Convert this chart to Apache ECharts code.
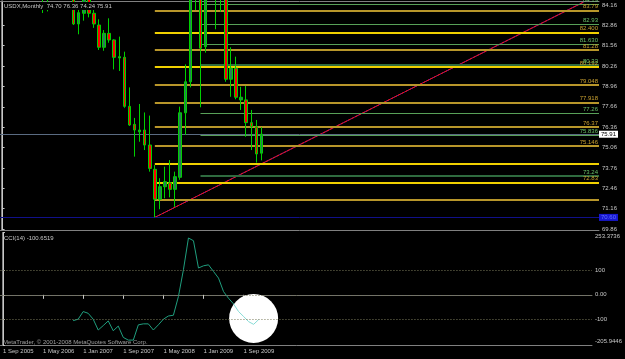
<!DOCTYPE html>
<html><head><meta charset="utf-8">
<script src="https://cdn.jsdelivr.net/npm/echarts@6/dist/echarts.min.js"></script>
<style>html,body{margin:0;padding:0;background:#000;}#c{width:625px;height:359px;}</style>
</head><body><div id="c"></div>
<script>
// ---------- data ----------
const symbolName = 'USDX,Monthly';
const startYear = 2005, startMonth = 8;   // first bar: Sep 2005
const monthCount = 118;                   // visible bar slots incl. empty future area
const MONTHS = ['Jan','Feb','Mar','Apr','May','Jun','Jul','Aug','Sep','Oct','Nov','Dec'];

// monthly candles, Sep 2005 .. Dec 2009
const opens  = [86.6,88.9,89.6,91.0,89.8,89.1,90.0,89.6,86.6,85.3,85.5,85.0,84.7,86.3,
                85.6,82.95,83.63,84.9,83.63,82.88,81.46,82.35,81.93,80.78,80.82,77.69,76.54,76.06,
                76.18,75.22,73.67,71.76,72.56,72.81,72.39,73.16,77.28,79.26,85.5,86.6,81.5,85.6,
                88.3,85.4,84.6,79.42,80.12,78.1,78.1,76.65,76.39,74.70];
const highs  = [89.2,90.2,92.6,91.3,90.7,91.0,91.2,89.8,86.9,86.6,86.0,85.6,86.4,87.1,
                86.0,84.0,85.3,85.1,84.1,83.25,82.56,83.31,81.97,82.14,81.18,78.9,76.95,77.84,
                77.3,77.1,73.94,73.1,73.84,74.26,73.52,77.67,80.37,87.3,88.5,86.9,86.5,89.1,
                89.6,86.5,85.0,81.46,80.86,78.94,78.99,77.46,76.82,76.36];
const lows   = [86.5,88.3,89.2,88.8,88.6,88.6,88.9,86.4,83.65,83.75,84.6,84.5,84.6,85.4,
                82.88,82.29,83.16,83.37,82.7,81.29,81.24,81.75,80.05,79.95,77.6,76.44,74.48,75.43,
                74.9,73.52,70.60,71.12,71.82,71.88,71.27,73.0,75.86,78.9,83.84,77.63,81.12,85.2,
                82.61,83.73,79.26,78.3,78.14,77.46,75.75,74.9,74.1,74.24];
const closes = [88.9,89.6,91.0,89.8,89.1,90.0,89.6,86.6,85.3,85.5,85.0,84.7,86.3,85.6,
                82.95,83.67,84.9,83.63,82.95,81.46,82.35,81.93,80.82,80.86,77.69,76.5,76.18,76.18,
                75.22,73.73,71.76,72.56,72.88,72.39,73.2,77.28,79.26,85.5,86.6,81.4,85.6,88.3,
                85.4,84.6,79.42,80.12,78.27,78.27,76.65,76.39,74.65,75.91];

const priceTicks = [69.86,71.16,72.46,73.76,75.06,76.36,77.66,78.96,80.26,81.56,82.86,84.16];
const priceMin = 69.796, priceMax = 84.415;

// CCI(14), Nov 2006 .. Dec 2009
const cciStart = 14;
const cciValues = [-105,-99,-68,-75,-99,-143,-125,-106,-146,-127,-173,-184,-184,-122,-118,-118,
                   -143,-122,-99,-86,-83,-7,102,231,220,109,118,122,95,68,13,-14,-37,-68,-88,
                   -109,-120,-100.6519];
const cciHighlightFrom = 46;   // bars drawn inside the white marker
const cciMin = -205.9446, cciMax = 253.3736;
const cciTicks = [-205.9446,-100,0,100,253.3736];
const cciLevels = [100,0,-100];
const dateLabelIdx = [0,8,16,24,32,40,48];

// drawn objects
const goldLevels   = [83.79,81.28,79.048,77.918,76.37,75.146,71.71];
const goldLabels   = ['83.79','81.28','79.048','77.918','76.37','75.146',''];
const yellowLevels = [82.400,80.192,74.01,72.83];
const yellowLabels = ['82.400','80.192','','72.83'];
const greenLevels  = [84.19,82.93,81.63,77.26,75.836];
const greenLabels  = ['84.19','82.93','81.630','77.26','75.836'];
const dkGreenLevels = [80.33,73.24];
const dkGreenLabels = ['80.33','73.24'];
const fibStartIdx = 30, greenStartIdx = 39;
const trendLine = [[30,70.60],[114.5,84.35]];
const bidPrice = 75.91;
const lowLinePrice = 70.60;
const circlePoint = [50,-96];

// ---------- build ----------
const FONT = 'Liberation Sans';
const categories = [];
for (let i = 0; i < monthCount; i++) {
  const m = (startMonth + i) % 12;
  const y = startYear + Math.floor((startMonth + i) / 12);
  categories.push('1 ' + MONTHS[m] + ' ' + y);
}
const candleData = opens.map((o, i) => [o, closes[i], lows[i], highs[i]]);
const cciData = cciValues.map((v, i) => [cciStart + i, v]);
const cciMain = cciData.filter(p => p[0] <= cciHighlightFrom);
const cciLight = cciData.filter(p => p[0] >= cciHighlightFrom);
const LAST = monthCount - 0.5;
const n = opens.length - 1;

function levelLines(levels, labels, start, color, width, type, labelColor) {
  return levels.map((v, i) => [
    { coord: [start, v], lineStyle: { color, width, type },
      label: { show: labels[i] !== '', formatter: labels[i] || ' ', position: 'insideEndTop',
               color: labelColor, fontSize: 6, fontFamily: FONT, distance: 1, padding: 0 } },
    { coord: [LAST, v] }
  ]);
}
const objLines = [].concat(
  levelLines(goldLevels, goldLabels, fibStartIdx, '#b8962a', 2, 'solid', '#c8a030'),
  levelLines(yellowLevels, yellowLabels, fibStartIdx, '#f0d000', 2, 'solid', '#c8a030'),
  levelLines(greenLevels, greenLabels, greenStartIdx, '#58a058', 1, 'solid', '#6ac06a'),
  levelLines(dkGreenLevels, dkGreenLabels, greenStartIdx, '#2f6b3f', 2, 'solid', '#6ac06a'),
  [[{ coord: [-0.5, bidPrice], lineStyle: { color: '#5a6b82', width: 1, type: 'solid' },
      label: { show: true, position: 'end', formatter: bidPrice.toFixed(2), backgroundColor: '#fff',
               color: '#000', fontSize: 6, fontFamily: FONT, padding: [1, 2, 0, 2], distance: 0 } },
    { coord: [LAST, bidPrice] }],
   [{ coord: [-0.5, lowLinePrice], lineStyle: { color: '#10108a', width: 1, type: 'solid' },
      label: { show: true, position: 'end', formatter: lowLinePrice.toFixed(2), backgroundColor: '#1818d0',
               color: '#6070ff', fontSize: 6, fontFamily: FONT, padding: [1, 2, 0, 2], distance: 0 } },
    { coord: [LAST, lowLinePrice] }]]
);
const cciLevelLines = cciLevels.map(v => [
  { coord: [-0.5, v], lineStyle: { color: '#7a7a5a', width: 1, type: [1, 2] }, label: { show: false } },
  { coord: [LAST, v] }
]);

const gridCfg = [
  { left: 0, right: 26, top: 1, height: 229 },
  { left: 0, right: 26, top: 232.5, height: 113 }
];
const labelStyle = { color: '#c8c8c8', fontSize: 6, fontFamily: FONT };
const isDateIdx = idx => dateLabelIdx.indexOf(idx) >= 0;

const option = {
  backgroundColor: '#000',
  animation: false,
  title: [
    { text: symbolName + '  ' + [opens[n], highs[n], lows[n], closes[n]].map(v => v.toFixed(2)).join(' '),
      left: 3, top: 2, padding: [1, 1, 1, 1], backgroundColor: '#000', z: 10,
      textStyle: { color: '#c8c8c8', fontSize: 6, fontWeight: 'normal', fontFamily: FONT } },
    { text: 'CCI(14) ' + cciValues[cciValues.length - 1].toFixed(4),
      left: 4, top: 235, padding: 0,
      textStyle: { color: '#c8c8c8', fontSize: 6, fontWeight: 'normal', fontFamily: FONT } },
    { text: 'MetaTrader, \u00a9 2001-2008 MetaQuotes Software Corp.',
      left: 3, top: 339.5, padding: 0,
      textStyle: { color: '#a0a0a0', fontSize: 6, fontWeight: 'normal', fontFamily: FONT } }
  ],
  grid: gridCfg,
  xAxis: [
    { type: 'category', gridIndex: 0, data: categories, boundaryGap: true,
      axisLine: { show: true, lineStyle: { color: '#808080' } }, axisTick: { show: false }, axisLabel: { show: false } },
    { type: 'value', gridIndex: 0, min: -0.5, max: LAST, position: 'top',
      axisLine: { show: true, lineStyle: { color: '#808080' } }, axisTick: { show: false },
      axisLabel: { show: false }, splitLine: { show: false } },
    { type: 'category', gridIndex: 1, data: categories, boundaryGap: true,
      axisLine: { show: true, lineStyle: { color: '#707070' } },
      axisTick: { show: true, interval: isDateIdx, alignWithLabel: true, length: 4, lineStyle: { color: '#c8c8c8' } },
      axisLabel: Object.assign({ interval: isDateIdx, align: 'left', margin: 3 }, labelStyle) },
    { type: 'value', gridIndex: 1, min: -0.5, max: LAST, position: 'top',
      axisLine: { show: true, lineStyle: { color: '#808080' } }, axisTick: { show: false },
      axisLabel: { show: false }, splitLine: { show: false } }
  ],
  yAxis: [
    { type: 'value', gridIndex: 0, position: 'right', min: priceMin, max: priceMax,
      axisLine: { show: true, lineStyle: { color: '#c8c8c8' } },
      axisTick: { show: true, length: 2, customValues: priceTicks, lineStyle: { color: '#c8c8c8' } },
      axisLabel: Object.assign({ customValues: priceTicks, margin: 3, formatter: v => v.toFixed(2) }, labelStyle),
      splitLine: { show: false } },
    { type: 'value', gridIndex: 1, position: 'right', min: cciMin, max: cciMax,
      axisLine: { show: true, lineStyle: { color: '#c8c8c8' } },
      axisTick: { show: true, length: 2, customValues: cciTicks, lineStyle: { color: '#c8c8c8' } },
      axisLabel: Object.assign({ customValues: cciTicks, margin: 3,
        formatter: v => {
          if (Math.abs(v - cciMax) < 1e-6) return '{t|' + cciMax.toFixed(4) + '}';
          if (Math.abs(v - cciMin) < 1e-6) return '{b|' + cciMin.toFixed(4) + '}';
          return v === 0 ? '0.00' : String(v);
        },
        rich: { t: { padding: [8, 0, 0, 0], color: '#c8c8c8', fontSize: 6, fontFamily: FONT },
                b: { padding: [0, 0, 8, 0], color: '#c8c8c8', fontSize: 6, fontFamily: FONT } } }, labelStyle),
      splitLine: { show: false } },
    { type: 'value', gridIndex: 0, position: 'left', offset: -1.5, min: 0, max: 1,
      axisLine: { show: true, lineStyle: { color: '#808080' } }, axisTick: { show: false },
      axisLabel: { show: false }, splitLine: { show: false } },
    { type: 'value', gridIndex: 1, position: 'left', offset: -1.5, min: 0, max: 1,
      axisLine: { show: true, lineStyle: { color: '#808080' } }, axisTick: { show: false },
      axisLabel: { show: false }, splitLine: { show: false } }
  ],
  series: [
    { type: 'candlestick', xAxisIndex: 0, yAxisIndex: 0, data: candleData, barWidth: 3, clip: false, z: 5,
      itemStyle: { color: '#2a7a5a', color0: '#ff0000', borderColor: '#00d000', borderColor0: '#00d000', borderWidth: 1 } },
    { type: 'line', xAxisIndex: 1, yAxisIndex: 0, data: [], z: 3, silent: true,
      markLine: { symbol: ['none', 'none'], silent: true, animation: false, data: objLines } },
    { type: 'line', xAxisIndex: 1, yAxisIndex: 0, data: trendLine, symbol: 'none', silent: true, z: 4,
      lineStyle: { color: '#7020a0', width: 1 } },
    { type: 'line', xAxisIndex: 1, yAxisIndex: 0, data: trendLine, symbol: 'none', silent: true, z: 4,
      lineStyle: { color: '#ff1010', width: 1, type: [3, 1] } },
    { type: 'scatter', xAxisIndex: 3, yAxisIndex: 1, data: [circlePoint], symbolSize: 49, silent: true, z: 1,
      itemStyle: { color: '#ffffff', opacity: 1 } },
    { type: 'line', xAxisIndex: 3, yAxisIndex: 1, data: [], z: 2, silent: true,
      markLine: { symbol: ['none', 'none'], silent: true, animation: false, data: cciLevelLines } },
    { type: 'line', xAxisIndex: 3, yAxisIndex: 1, data: cciMain, symbol: 'none', silent: true, z: 3,
      lineStyle: { width: 1, color: '#1f9e7e' } },
    { type: 'line', xAxisIndex: 3, yAxisIndex: 1, data: cciLight, symbol: 'none', silent: true, z: 3,
      lineStyle: { width: 1, color: '#86dcd6' } }
  ]
};
const chart = echarts.init(document.getElementById('c'));
chart.setOption(option);
</script>
</body></html>
